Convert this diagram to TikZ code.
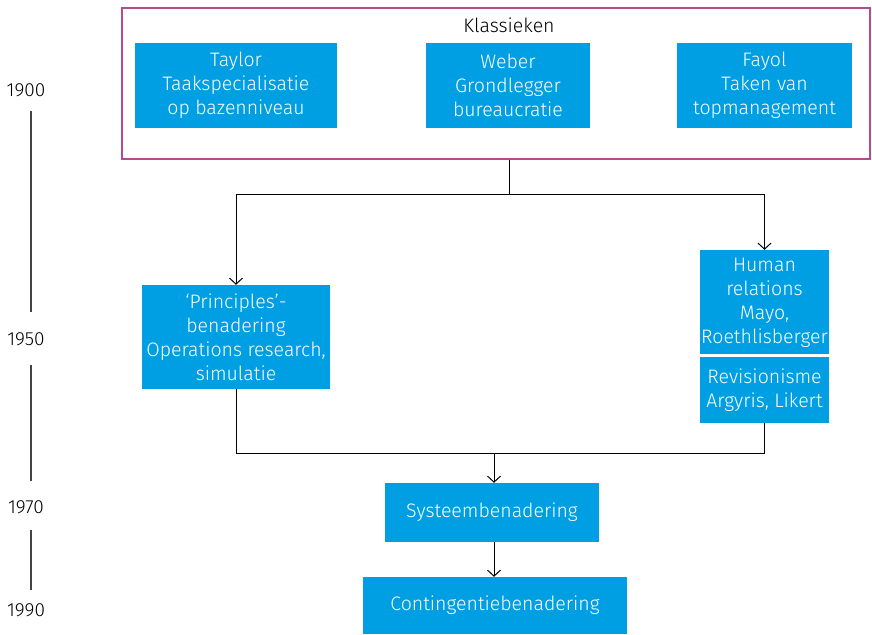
\documentclass[tikz,border=0pt]{standalone}
\usepackage{fontspec}
\setmainfont{Fira Sans}[UprightFont=* Light]
\usetikzlibrary{arrows.meta,calc}
\definecolor{boxblue}{HTML}{009FE3}
\definecolor{frame}{HTML}{B84A8C}
\definecolor{tl}{HTML}{444444}
\begin{document}
\begin{tikzpicture}[x=1pt,y=-1pt,
  bluebox/.style={fill=boxblue,text=white,inner sep=0pt,align=center,font=\fontsize{19.5}{24}\selectfont},
  conn/.style={draw=black,line width=1pt},
  arr/.style={conn,-{Straight Barb[length=6pt,width=13pt,line width=1pt]}},
  year/.style={font=\fontsize{19}{20}\selectfont,text=black},
  tline/.style={draw=tl,line width=1.2pt}]
\useasboundingbox (0,0) rectangle (872,634);
% Klassieken frame
\node[draw=frame,line width=1.2pt,minimum width=748pt,minimum height=151pt,inner sep=0pt] (klass) at (496,83.5) {};
\node[font=\fontsize{19.5}{20}\selectfont] (klasst) at (509,25) {Klassieken};
\node[bluebox,minimum width=202pt,minimum height=85pt] (taylor) at (236,85.5) {Taylor\\Taakspecialisatie\\op bazenniveau};
\node[bluebox,minimum width=164pt,minimum height=85pt] (weber) at (508,85.5) {Weber\\Grondlegger\\bureaucratie};
\node[bluebox,minimum width=175pt,minimum height=85pt] (fayol) at (764.5,85.5) {Fayol\\Taken van\\topmanagement};
% middle
\node[bluebox,minimum width=188pt,minimum height=104pt] (princ) at (236,337) {‘Principles’-\\benadering\\Operations research,\\simulatie};
\node[bluebox,minimum width=129pt,minimum height=105pt] (human) at (764.5,302.5) {Human\\relations\\Mayo,\\Roethlisberger};
\node[bluebox,minimum width=129pt,minimum height=66pt] (revis) at (764.5,390) {Revisionisme\\Argyris, Likert};
\draw[white,line width=1.5pt] (human.south west) -- (human.south east);
% bottom
\node[bluebox,minimum width=214pt,minimum height=59pt] (systeem) at (492,512.5) {Systeembenadering};
\node[bluebox,minimum width=264pt,minimum height=57pt] (conting) at (495,605.5) {Contingentiebenadering};
% connectors
\coordinate (top) at (509,194);
\coordinate (bot) at (494,453);
\draw[conn] (klass.south -| top) -- (top);
\draw[arr] (top) -| (princ.north);
\draw[arr] (top) -| (human.north);
\draw[conn] (princ.south) |- (bot);
\draw[conn] (revis.south) |- (bot);
\draw[arr] (bot) -- (bot |- systeem.north);
\draw[arr] (systeem.south -| bot) -- (bot |- conting.north);
% timeline
\node[year] (y1900) at (26,90) {1900};
\node[year] (y1950) at (26,339) {1950};
\node[year] (y1970) at (26,507) {1970};
\node[year] (y1990) at (26,610) {1990};
\draw[tline] (31,111) -- (31,312);
\draw[tline] (31,365) -- (31,481);
\draw[tline] (31,530) -- (31,590);
\end{tikzpicture}
\end{document}
